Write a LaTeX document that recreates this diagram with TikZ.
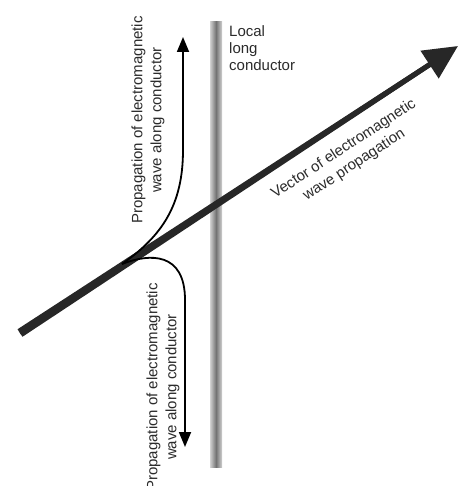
\documentclass[tikz,border=0pt]{standalone}
\usepackage{fontspec}
\setmainfont{Liberation Sans}
\usetikzlibrary{arrows.meta,positioning,calc}

\definecolor{inkgray}{HTML}{2B2B2B}

\begin{document}
\begin{tikzpicture}[x=1pt,y=-1pt,
		labeltext/.style={text=inkgray,inner sep=0pt,align=center,font=\fontsize{15}{19}\selectfont},
		wavecurve/.style={line width=1.8pt,draw=black,-{Triangle[length=15pt,width=12pt]}},
		mainvector/.style={line width=5pt,draw=inkgray!90!black,-{Triangle[length=34pt,width=32pt]}}]
			\useasboundingbox (0,0) rectangle (459,486);

			% conductor
			\shade[left color=black!18,right color=black!18,middle color=black!55]	(210,22) rectangle (222,467);
			\coordinate														(ctop)	at (222,22);
			\node[labeltext,align=left,anchor=north west,font=\fontsize{15}{17}\selectfont,xshift=7pt,yshift=-3pt]	(cond)	at (ctop)	{Local\\long\\conductor};

			% main vector
			\coordinate														(start)	at (20,333);
			\coordinate														(tip)	at (458,46);
			\coordinate														(neck)	at ($(tip)!32pt!(start)$);
			\coordinate														(split)	at (122,264);
			\draw[mainvector] (start) -- (tip);
			\fill[inkgray!90!black] ($(start)!4.5pt!90:(tip)$) -- ($(start)!4.5pt!-90:(tip)$) -- ($(neck)!2.5pt!-90:(tip)$) -- ($(neck)!2.5pt!90:(tip)$) -- cycle;
			\node[labeltext,rotate=33.2]									(vlab)	at (349,157)	{Vector of electromagnetic\\wave propagation};

			% waves along conductor
			\coordinate														(uptip)	at (183,37);
			\coordinate														(dntip)	at (185,447);
			\draw[wavecurve] (split) .. controls (162,236) and (183,205) .. (183,150) -- (uptip);
			\draw[wavecurve] (split) .. controls (150,253) and (185,252) .. (185,300) -- (dntip);
			\node[labeltext,rotate=90]										(ulab)	at (148,120)	{Propagation of electromagnetic\\wave along conductor};
			\node[labeltext,rotate=90]										(dlab)	at (163,387)	{Propagation of electromagnetic\\wave along conductor};
		\end{tikzpicture}
\end{document}
